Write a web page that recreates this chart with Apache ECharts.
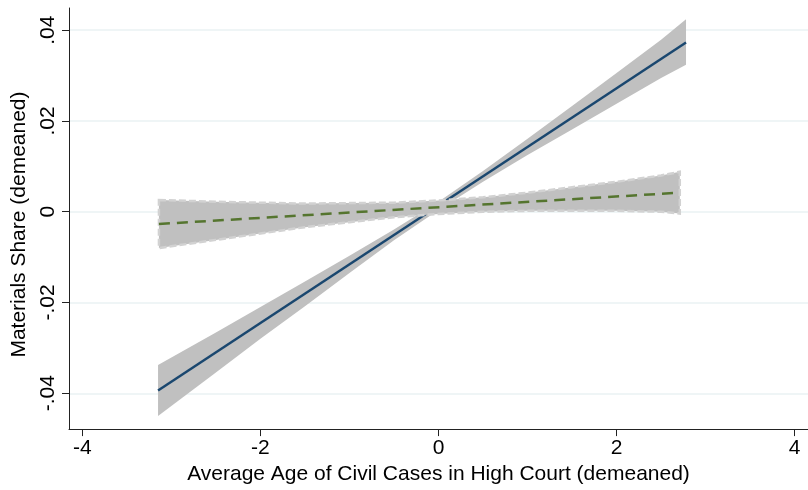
<!DOCTYPE html>
<html>
<head>
<meta charset="utf-8">
<script src="https://cdn.jsdelivr.net/npm/echarts@6/dist/echarts.min.js"></script>
<style>
  html, body { margin: 0; padding: 0; background: #ffffff; }
  #chart { width: 808px; height: 490px; }
</style>
</head>
<body>
<div id="chart"></div>
<script>
// Steep fit: fitted line and 95% confidence band
const steepFitX = [-3.15, 2.78];
const steepFitY = [-0.0394, 0.0373];
const steepBandX = [-3.15, -2.5, -2, -1.5, -1, -0.5, 0, 0.5, 1, 1.5, 2, 2.5, 2.78];
const steepUpper = [-0.0338, -0.0266, -0.0210, -0.0154, -0.0097, -0.0039, 0.0022, 0.0090, 0.0161, 0.0233, 0.0306, 0.0379, 0.0424];
const steepLower = [-0.0450, -0.0354, -0.0280, -0.0208, -0.0135, -0.0063, 0.0004, 0.0066, 0.0125, 0.0181, 0.0238, 0.0295, 0.0324];

// Flat fit: fitted line and 95% confidence band
const flatFitX = [-3.14, 2.71];
const flatFitY = [-0.0027, 0.0042];
const flatBandX = [-3.14, -2.5, -2, -1.5, -1, -0.5, 0, 0.5, 1, 1.5, 2, 2.5, 2.71];
const flatUpper = [0.0026, 0.0022, 0.0020, 0.0018, 0.0019, 0.0020, 0.0025, 0.0032, 0.0042, 0.0054, 0.0066, 0.0080, 0.0088];
const flatLower = [-0.0080, -0.0062, -0.0048, -0.0034, -0.0023, -0.0012, -0.0005, 0.0000, 0.0002, 0.0002, 0.0002, 0.0000, -0.0004];

// Axis ticks and their labels
const xTicks = [-4, -2, 0, 2, 4];
const xTickLabels = ['-4', '-2', '0', '2', '4'];
const yTicks = [-0.04, -0.02, 0, 0.02, 0.04];
const yTickLabels = ['-.04', '-.02', '0', '.02', '.04'];

const FONT = '"Liberation Sans", Arial, sans-serif';
const BAND_GRAY = '#c0c0c0';

function pairs(xs, ys) {
  return xs.map((x, i) => [x, ys[i]]);
}

function labelFor(ticks, labels) {
  return function (v) {
    const i = ticks.findIndex(t => Math.abs(t - v) < 1e-9);
    return i >= 0 ? labels[i] : '';
  };
}

// Band polygon: upper edge left to right, then lower edge back
function bandSeries(xs, upper, lower, stroke, z) {
  return {
    type: 'custom',
    z: z,
    silent: true,
    data: [[xs[0], upper[0]]],
    renderItem: function (params, api) {
      const pts = [];
      for (let i = 0; i < xs.length; i++) pts.push(api.coord([xs[i], upper[i]]));
      for (let i = xs.length - 1; i >= 0; i--) pts.push(api.coord([xs[i], lower[i]]));
      return {
        type: 'polygon',
        shape: { points: pts },
        style: Object.assign({ fill: BAND_GRAY }, stroke || { stroke: null })
      };
    }
  };
}

const chart = echarts.init(document.getElementById('chart'), null, { renderer: 'canvas' });

chart.setOption({
  animation: false,
  backgroundColor: '#ffffff',
  grid: { left: 69, right: 0, top: 8, bottom: 56 },
  xAxis: {
    type: 'value',
    min: -4.15,
    max: 4.15,
    name: 'Average Age of Civil Cases in High Court (demeaned)',
    nameLocation: 'middle',
    nameGap: 26,
    nameTextStyle: { fontFamily: FONT, fontSize: 21, color: '#000' },
    axisLine: { show: true, onZero: false, lineStyle: { color: '#222', width: 1 } },
    axisTick: { show: true, length: 7, customValues: xTicks, lineStyle: { color: '#222', width: 1 } },
    axisLabel: {
      customValues: xTicks,
      formatter: labelFor(xTicks, xTickLabels),
      fontFamily: FONT, fontSize: 21, color: '#000', margin: 9
    },
    splitLine: { show: false }
  },
  yAxis: {
    type: 'value',
    min: -0.0479,
    max: 0.0449,
    name: 'Materials Share (demeaned)',
    nameLocation: 'middle',
    nameRotate: 90,
    nameGap: 38,
    nameTextStyle: { fontFamily: FONT, fontSize: 21, color: '#000', padding: [0, 12, 0, 0] },
    axisLine: { show: true, onZero: false, lineStyle: { color: '#222', width: 1 } },
    axisTick: { show: true, length: 7, customValues: yTicks, lineStyle: { color: '#222', width: 1 } },
    axisLabel: {
      customValues: yTicks,
      rotate: 90,
      formatter: labelFor(yTicks, yTickLabels),
      fontFamily: FONT, fontSize: 21, color: '#000', margin: 10
    },
    splitLine: { show: true, lineStyle: { color: '#eaf2f3', width: 1.5 } }
  },
  series: [
    bandSeries(steepBandX, steepUpper, steepLower, null, 1),
    {
      type: 'line',
      z: 2,
      showSymbol: false,
      silent: true,
      data: pairs(steepFitX, steepFitY),
      lineStyle: { color: '#1a476f', width: 2.5 }
    },
    bandSeries(flatBandX, flatUpper, flatLower,
      { stroke: '#d2d2d2', lineWidth: 2.5, lineDash: [7, 3] }, 3),
    {
      type: 'line',
      z: 4,
      showSymbol: false,
      silent: true,
      data: pairs(flatFitX, flatFitY),
      lineStyle: { color: '#55752f', width: 2.5, type: [11, 7] }
    }
  ]
});
</script>
</body>
</html>
